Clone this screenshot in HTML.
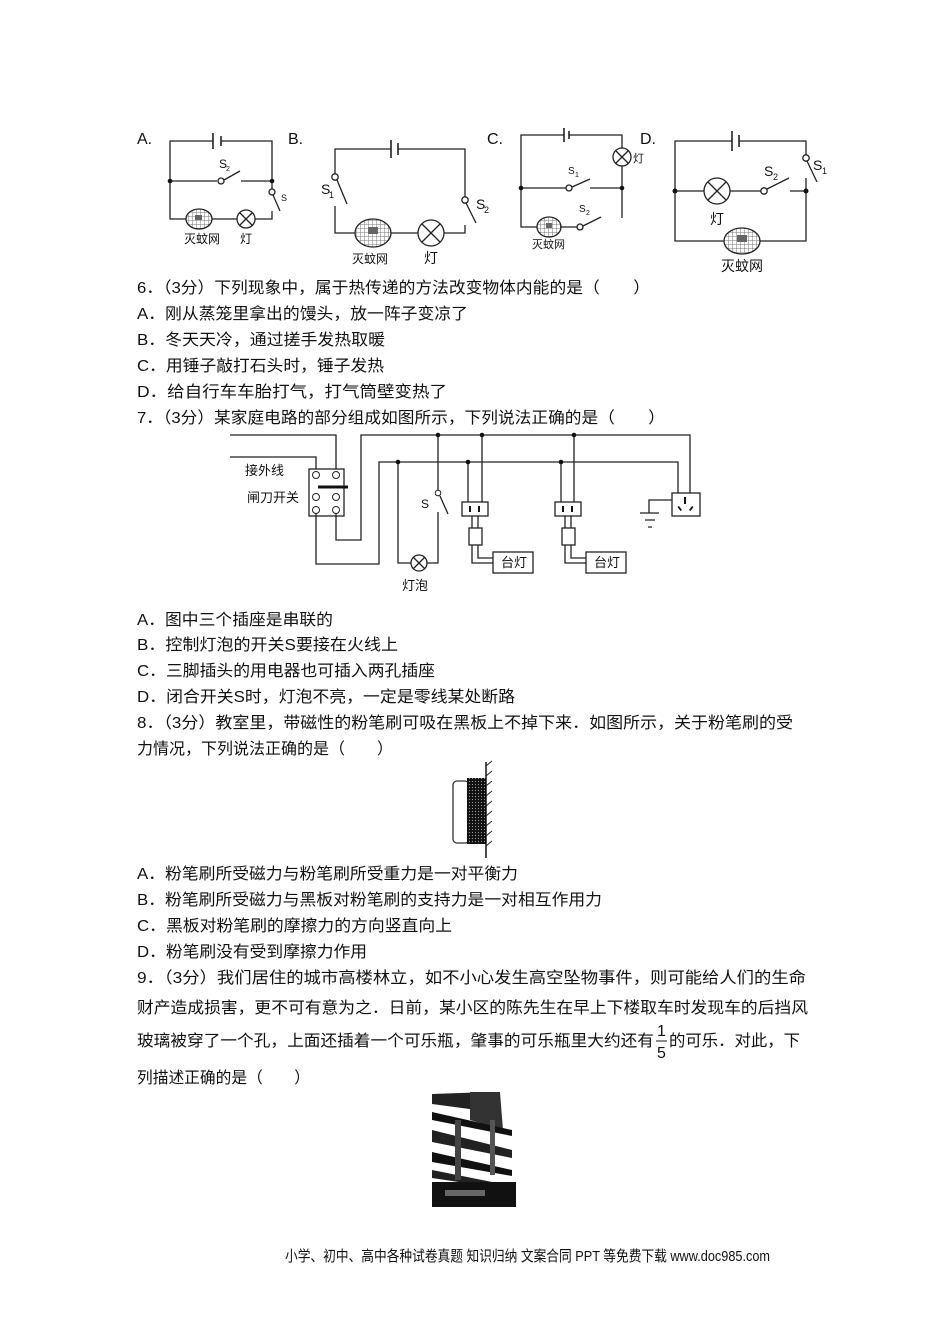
<!DOCTYPE html>
<html><head><meta charset="utf-8"><style>
html,body{margin:0;padding:0;background:#fff;}
svg{display:block;}
text{font-family:"Liberation Sans","Noto Sans CJK SC",sans-serif;fill:#111;}
.t{font-size:16px;}
.s{font-size:12px;}
.w{stroke:#222;stroke-width:1.3;fill:none;}
</style></head><body>
<svg width="950" height="1344" viewBox="0 0 950 1344" xmlns="http://www.w3.org/2000/svg">
<defs>
<pattern id="net" width="4" height="4" patternUnits="userSpaceOnUse"><rect width="4" height="4" fill="#fff"/><path d="M0 0H4M0 0V4" stroke="#777" stroke-width="1"/></pattern>
<pattern id="dots" width="3" height="3" patternUnits="userSpaceOnUse"><rect width="3" height="3" fill="#111"/><circle cx="1.5" cy="1.5" r="0.6" fill="#999"/></pattern>
</defs>
<!-- labels -->
<text class="t" x="137" y="144" font-size="13">A.</text>
<text class="t" x="288" y="144" font-size="13">B.</text>
<text class="t" x="487" y="144" font-size="13">C.</text>
<text class="t" x="640" y="144" font-size="13">D.</text>
<!-- A -->
<g class="w">
<path d="M213 141H170V219H186M212 219H237M255 219H272V211"/>
<path d="M221 141H272V181"/>
<path d="M213 133V149M221 136V146" stroke-width="1.6"/>
<path d="M170 181H217M241 181H272"/>
<path d="M224 180L240 171"/>
<path d="M272 181V189M273 195L280 211"/>
<circle cx="221" cy="181" r="3" fill="#fff"/><circle cx="272" cy="192" r="3" fill="#fff"/>
<ellipse cx="199" cy="219" rx="13" ry="10" fill="url(#net)"/>
<circle cx="246" cy="219" r="9" fill="#fff"/><path d="M240 213L252 225M252 213L240 225"/>
</g>
<circle cx="170" cy="181" r="2.3" fill="#111"/><circle cx="272" cy="181" r="2.3" fill="#111"/>
<rect x="195" y="215" width="7" height="5" fill="#666"/>
<text class="s" x="219" y="168" font-size="10">S</text><text x="226" y="171" font-size="7">2</text>
<text x="281" y="201" font-size="9">S</text>
<text class="s" x="184" y="243" font-size="11">灭蚊网</text><text class="s" x="240" y="243" font-size="11">灯</text>
<!-- B -->
<g class="w">
<path d="M391 149H335V174M335 206V233H355M391 233H418M444 233H465V225"/>
<path d="M398 149H465V197"/>
<path d="M391 140V158M398 143V155" stroke-width="1.6"/>
<path d="M337 180L347 204"/>
<path d="M466 203L476 223"/>
<circle cx="335" cy="177" r="3.2" fill="#fff"/><circle cx="465" cy="200" r="3.2" fill="#fff"/>
<ellipse cx="373" cy="233" rx="18" ry="14" fill="url(#net)"/>
<circle cx="431" cy="233" r="13" fill="#fff"/><path d="M422 224L440 242M440 224L422 242"/>
</g>
<rect x="368" y="227" width="10" height="7" fill="#666"/>
<text x="321" y="194" font-size="14">S</text><text x="329" y="198" font-size="9">1</text>
<text x="476" y="209" font-size="14">S</text><text x="484" y="213" font-size="9">2</text>
<text class="s" x="352" y="263" font-size="14">灭蚊网</text><text x="424" y="263" font-size="14">灯</text>
<!-- C -->
<g class="w">
<path d="M564 135H521V227H538M561 227H577"/>
<path d="M569 135H622V148M622 166V218"/>
<path d="M564 128V142M569 131V139" stroke-width="1.6"/>
<path d="M521 188H566M590 188H622"/>
<path d="M572 187L590 179"/>
<path d="M583 226L601 217"/>
<circle cx="569" cy="188" r="3" fill="#fff"/><circle cx="580" cy="227" r="3" fill="#fff"/>
<ellipse cx="549" cy="227" rx="12" ry="10" fill="url(#net)"/>
<circle cx="622" cy="157" r="9" fill="#fff"/><path d="M616 151L628 163M628 151L616 163"/>
</g>
<circle cx="521" cy="188" r="2.3" fill="#111"/><circle cx="622" cy="188" r="2.3" fill="#111"/>
<rect x="546" y="223" width="6" height="5" fill="#666"/>
<text x="568" y="174" font-size="10">S</text><text x="575" y="177" font-size="7">1</text>
<text x="579" y="212" font-size="10">S</text><text x="586" y="215" font-size="7">2</text>
<text x="633" y="162" font-size="11">灯</text>
<text x="532" y="248" font-size="11">灭蚊网</text>
<!-- D -->
<g class="w">
<path d="M732 141H675V241H724M760 241H806V178"/>
<path d="M739 141H806V155"/>
<path d="M732 131V151M739 135V147" stroke-width="1.6"/>
<path d="M675 191H704M730 191H761M790 191H806"/>
<path d="M767 189L789 178"/>
<path d="M807 161L817 182"/>
<circle cx="764" cy="191" r="3.2" fill="#fff"/><circle cx="806" cy="158" r="3.2" fill="#fff"/>
<ellipse cx="742" cy="241" rx="18" ry="13" fill="url(#net)"/>
<circle cx="717" cy="191" r="13" fill="#fff"/><path d="M708 182L726 200M726 182L708 200"/>
</g>
<circle cx="675" cy="191" r="2.5" fill="#111"/><circle cx="806" cy="191" r="2.5" fill="#111"/>
<rect x="737" y="235" width="10" height="7" fill="#666"/>
<text x="764" y="176" font-size="14">S</text><text x="773" y="180" font-size="9">2</text>
<text x="813" y="170" font-size="14">S</text><text x="822" y="174" font-size="9">1</text>
<text x="710" y="224" font-size="14">灯</text>
<text x="721" y="271" font-size="14">灭蚊网</text>

<!-- Q6 -->
<text class="t" x="137" y="293" textLength="513" lengthAdjust="spacingAndGlyphs">6．（3分）下列现象中，属于热传递的方法改变物体内能的是（　　）</text>
<text class="t" x="137" y="319" textLength="331" lengthAdjust="spacingAndGlyphs">A．刚从蒸笼里拿出的馒头，放一阵子变凉了</text>
<text class="t" x="137" y="345" textLength="248" lengthAdjust="spacingAndGlyphs">B．冬天天冷，通过搓手发热取暖</text>
<text class="t" x="137" y="371" textLength="247" lengthAdjust="spacingAndGlyphs">C．用锤子敲打石头时，锤子发热</text>
<text class="t" x="137" y="397" textLength="310" lengthAdjust="spacingAndGlyphs">D．给自行车车胎打气，打气筒壁变热了</text>
<text class="t" x="137" y="423" textLength="528" lengthAdjust="spacingAndGlyphs">7．（3分）某家庭电路的部分组成如图所示，下列说法正确的是（　　）</text>

<!-- Q7 circuit -->
<g class="w" stroke-width="1.1">
<path d="M230 435H336V472M230 457H316V472"/>
<rect x="309" y="469" width="35" height="47" fill="#fff"/>
<path d="M336 513V540H361V435H690V493"/>
<path d="M316 513V564H379V462H678V493"/>
<path d="M398 462V563H411M427 563H438V512"/>
<path d="M438 435V490M440 496L448 514"/>
<path d="M468 462V502M482 435V502"/>
<rect x="462" y="502" width="26" height="14" fill="#fff"/>
<path d="M472 516V528M478 516V528"/>
<rect x="469" y="528" width="13" height="17"/>
<path d="M472 545V563H493M478 545V558H493"/>
<rect x="493" y="552" width="40" height="21"/>
<path d="M561 462V502M574 435V502"/>
<rect x="555" y="502" width="26" height="14" fill="#fff"/>
<path d="M565 516V528M571 516V528"/>
<rect x="562" y="528" width="13" height="17"/>
<path d="M565 545V563H586M571 545V558H586"/>
<rect x="586" y="552" width="40" height="21"/>
<rect x="672" y="493" width="28" height="23" fill="#fff"/>
<path d="M672 500H649V513M640 513H659M645 520H655M648 527H652"/>
<circle cx="419" cy="563" r="8" fill="#fff"/><path d="M413 557L425 569M425 557L413 569"/>
</g>
<g fill="#fff" stroke="#222" stroke-width="1">
<circle cx="316" cy="475" r="3.5"/><circle cx="336" cy="475" r="3.5"/>
<circle cx="316" cy="497" r="3.5"/><circle cx="336" cy="497" r="3.5"/>
<circle cx="316" cy="510" r="3.5"/><circle cx="336" cy="510" r="3.5"/>
<circle cx="438" cy="493" r="2.8"/>
</g>
<path d="M318 487H348" stroke="#111" stroke-width="3"/>
<g fill="#111">
<circle cx="438" cy="435" r="2.3"/><circle cx="482" cy="435" r="2.3"/><circle cx="574" cy="435" r="2.3"/>
<circle cx="398" cy="462" r="2.3"/><circle cx="468" cy="462" r="2.3"/><circle cx="561" cy="462" r="2.3"/>
<rect x="469" y="506" width="2" height="6"/><rect x="478" y="506" width="2" height="6"/>
<rect x="562" y="506" width="2" height="6"/><rect x="571" y="506" width="2" height="6"/>
<path d="M684 497h2v7h-2z M679 506l3 4-1.5 1-3-4z M692 506l-3 4 1.5 1 3-4z"/>
</g>
<text x="245" y="475" font-size="13">接外线</text>
<text x="247" y="502" font-size="13">闸刀开关</text>
<text x="421" y="508" font-size="12">S</text>
<text x="402" y="590" font-size="13">灯泡</text>
<text x="501" y="567" font-size="13">台灯</text>
<text x="594" y="567" font-size="13">台灯</text>

<text class="t" x="137" y="625" textLength="196" lengthAdjust="spacingAndGlyphs">A．图中三个插座是串联的</text>
<text class="t" x="137" y="650" textLength="261" lengthAdjust="spacingAndGlyphs">B．控制灯泡的开关S要接在火线上</text>
<text class="t" x="137" y="676" textLength="298" lengthAdjust="spacingAndGlyphs">C．三脚插头的用电器也可插入两孔插座</text>
<text class="t" x="137" y="702" textLength="378" lengthAdjust="spacingAndGlyphs">D．闭合开关S时，灯泡不亮，一定是零线某处断路</text>
<text class="t" x="137" y="728" textLength="656" lengthAdjust="spacingAndGlyphs">8．（3分）教室里，带磁性的粉笔刷可吸在黑板上不掉下来．如图所示，关于粉笔刷的受</text>
<text class="t" x="137" y="754" textLength="256" lengthAdjust="spacingAndGlyphs">力情况，下列说法正确的是（　　）</text>

<!-- brush -->
<rect x="453" y="781" width="16" height="62" rx="4" fill="#fff" stroke="#333" stroke-width="1.3"/>
<rect x="467" y="778" width="19" height="66" fill="url(#dots)"/>
<path d="M486 762V858" stroke="#111" stroke-width="1.5"/>
<path d="M486 766l6 -5M486 776l6 -5M486 786l6 -5M486 796l6 -5M486 806l6 -5M486 816l6 -5M486 826l6 -5M486 836l6 -5M486 846l6 -5" stroke="#222" stroke-width="1"/>

<text class="t" x="137" y="879" textLength="381" lengthAdjust="spacingAndGlyphs">A．粉笔刷所受磁力与粉笔刷所受重力是一对平衡力</text>
<text class="t" x="137" y="905" textLength="465" lengthAdjust="spacingAndGlyphs">B．粉笔刷所受磁力与黑板对粉笔刷的支持力是一对相互作用力</text>
<text class="t" x="137" y="931" textLength="315" lengthAdjust="spacingAndGlyphs">C．黑板对粉笔刷的摩擦力的方向竖直向上</text>
<text class="t" x="137" y="957" textLength="230" lengthAdjust="spacingAndGlyphs">D．粉笔刷没有受到摩擦力作用</text>
<text class="t" x="137" y="983" textLength="669" lengthAdjust="spacingAndGlyphs">9．（3分）我们居住的城市高楼林立，如不小心发生高空坠物事件，则可能给人们的生命</text>
<text class="t" x="137" y="1013" textLength="671" lengthAdjust="spacingAndGlyphs">财产造成损害，更不可有意为之．日前，某小区的陈先生在早上下楼取车时发现车的后挡风</text>
<text class="t" x="137" y="1046" textLength="517" lengthAdjust="spacingAndGlyphs">玻璃被穿了一个孔，上面还插着一个可乐瓶，肇事的可乐瓶里大约还有</text>
<text class="t" x="657" y="1036">1</text>
<path d="M656 1041H667" stroke="#111" stroke-width="1"/>
<text class="t" x="657" y="1058">5</text>
<text class="t" x="669" y="1046" textLength="131" lengthAdjust="spacingAndGlyphs">的可乐．对此，下</text>
<text class="t" x="137" y="1083" textLength="173" lengthAdjust="spacingAndGlyphs">列描述正确的是（　　）</text>

<!-- building photo -->
<g>
<rect x="432" y="1092" width="84" height="115" fill="#fff"/>
<path d="M432 1094L490 1092L492 1112L432 1104Z" fill="#222"/>
<path d="M470 1092L500 1092L503 1130L470 1120Z" fill="#333"/>
<path d="M432 1112L512 1130L512 1136L432 1120Z" fill="#111"/>
<path d="M432 1130L512 1150L512 1158L432 1142Z" fill="#222"/>
<path d="M432 1152L512 1170L512 1176L432 1162Z" fill="#111"/>
<path d="M432 1170L512 1186L512 1190L432 1178Z" fill="#222"/>
<rect x="432" y="1182" width="84" height="25" fill="#111"/>
<rect x="445" y="1190" width="40" height="6" fill="#666"/>
<rect x="455" y="1120" width="6" height="60" fill="#444"/>
<rect x="490" y="1120" width="5" height="55" fill="#555"/>
</g>

<text x="285" y="1261" font-size="15" textLength="485" lengthAdjust="spacingAndGlyphs">小学、初中、高中各种试卷真题 知识归纳 文案合同 PPT 等免费下载  www.doc985.com</text>
</svg>
</body></html>
